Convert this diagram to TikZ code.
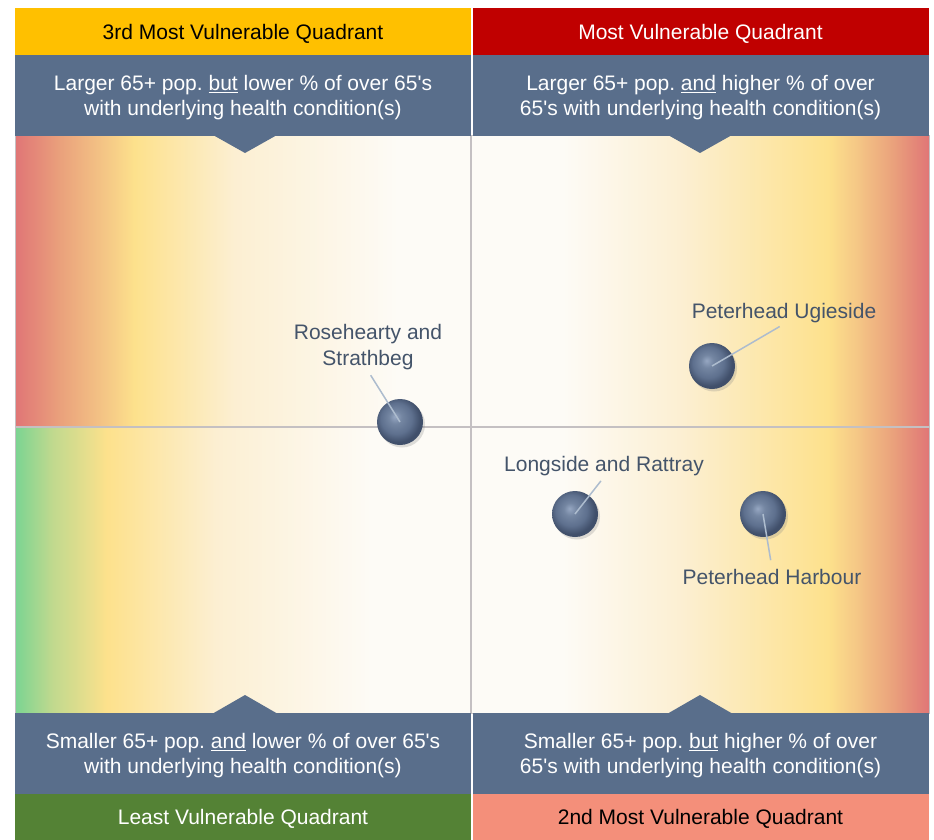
\documentclass[tikz,border=0pt]{standalone}
\usepackage{fontspec}
\setmainfont{Liberation Sans}
\usepackage{tikz}
\usetikzlibrary{shadows}
\frenchspacing

\definecolor{quadyellow}{RGB}{255, 192, 0}
\definecolor{quadred}{RGB}{192, 0, 0}
\definecolor{quadgreen}{RGB}{84, 130, 53}
\definecolor{quadsalmon}{RGB}{244, 143, 122}
\definecolor{boxslate}{RGB}{89, 110, 139}
\definecolor{labelslate}{RGB}{68, 84, 106}
\definecolor{leadergray}{RGB}{173, 188, 206}
\definecolor{gridgray}{RGB}{196, 192, 194}
\definecolor{edgered}{RGB}{224, 118, 118}
\definecolor{edgesalmon}{RGB}{234, 162, 124}
\definecolor{edgeorange}{RGB}{245, 200, 134}
\definecolor{midyellow}{RGB}{253, 225, 140}
\definecolor{midcream}{RGB}{252, 239, 210}
\definecolor{nearwhite}{RGB}{253, 251, 246}
\definecolor{edgegreen}{RGB}{124, 212, 146}
\definecolor{edgelime}{RGB}{192, 217, 142}
\definecolor{ballhi}{RGB}{150, 167, 194}
\definecolor{ballmid}{RGB}{116, 134, 162}
\definecolor{ballbody}{RGB}{94, 112, 142}
\definecolor{balldark}{RGB}{64, 79, 106}

\pgfdeclarehorizontalshading{heatleft}{100bp}{color(0bp)=(edgered); color(25bp)=(edgered); color(30bp)=(edgesalmon); color(35bp)=(edgeorange); color(38bp)=(midyellow); color(49bp)=(midcream); color(67bp)=(nearwhite); color(100bp)=(nearwhite)}
\pgfdeclarehorizontalshading{heatgreen}{100bp}{color(0bp)=(edgegreen); color(25bp)=(edgegreen); color(29bp)=(edgelime); color(35bp)=(midyellow); color(47bp)=(midcream); color(64bp)=(nearwhite); color(100bp)=(nearwhite)}
\pgfdeclarehorizontalshading{heatright}{100bp}{color(0bp)=(nearwhite); color(35bp)=(nearwhite); color(48bp)=(midcream); color(64bp)=(midyellow); color(67bp)=(edgeorange); color(71bp)=(edgesalmon); color(75bp)=(edgered); color(100bp)=(edgered)}
\pgfdeclareradialshading{bubble}{\pgfpoint{-6bp}{6bp}}{color(0bp)=(ballhi); color(7bp)=(ballmid); color(17bp)=(ballbody); color(25bp)=(balldark); color(50bp)=(balldark)}

\begin{document}
\begin{tikzpicture}[x=1pt, y=-1pt,
  bar/.style={minimum width=456pt, minimum height=47pt, inner sep=0pt, text depth=0pt, font=\fontsize{21}{25}\selectfont},
  descbox/.style={fill=boxslate, text=white, minimum width=456pt, minimum height=81pt, inner sep=0pt, text depth=0pt, align=center, font=\fontsize{21}{25}\selectfont},
  town/.style={circle, minimum size=46pt, inner sep=0pt, shading=bubble, drop shadow={shadow xshift=2pt, shadow yshift=-2.5pt, opacity=0.25}},
  townlabel/.style={text=labelslate, align=center, inner sep=1pt, font=\fontsize{21}{26}\selectfont},
  leader/.style={draw=leadergray, line width=1.5pt}]

  \useasboundingbox (0,0) rectangle (934,840);

  % Quadrant backgrounds
  \shade[shading=heatleft] (16,136) rectangle (471,427);
  \shade[shading=heatright] (471,136) rectangle (929,427);
  \shade[shading=heatgreen] (16,427) rectangle (471,713);
  \shade[shading=heatright] (471,427) rectangle (929,713);

  % Frame and dividers
  \draw[gridgray, line width=1pt] (15,136) rectangle (929.5,713);
  \draw[gridgray, line width=2pt] (471,136) -- (471,713);
  \draw[gridgray, line width=2pt] (16,427) -- (929,427);

  % Top headers
  \node[bar, fill=quadyellow, text=black] (q3) at (243,31.5) {3rd Most Vulnerable Quadrant};
  \node[bar, fill=quadred, text=white] (q1) at (700.5,31.5) {Most Vulnerable Quadrant};
  \node[descbox] (d3) at (243,95.5) {Larger 65+ pop. \underline{but} lower \% of over 65\textquotesingle s\\with underlying health condition(s)};
  \node[descbox] (d1) at (700.5,95.5) {Larger 65+ pop. \underline{and} higher \% of over\\65\textquotesingle s with underlying health condition(s)};
  \fill[boxslate] (213,135) -- (245,153) -- (277,135) -- cycle;
  \fill[boxslate] (668,135) -- (700,153) -- (732,135) -- cycle;

  % Bottom headers
  \node[descbox] (d4) at (243,753) {Smaller 65+ pop. \underline{and} lower \% of over 65\textquotesingle s\\with underlying health condition(s)};
  \node[descbox] (d2) at (700.5,753) {Smaller 65+ pop. \underline{but} higher \% of over\\65\textquotesingle s with underlying health condition(s)};
  \fill[boxslate] (212,714) -- (245,695) -- (278,714) -- cycle;
  \fill[boxslate] (667,714) -- (700,695) -- (733,714) -- cycle;
  \node[bar, fill=quadgreen, text=white] (q4) at (243,817) {Least Vulnerable Quadrant};
  \node[bar, fill=quadsalmon, text=black] (q2) at (700.5,817) {2nd Most Vulnerable Quadrant};

  % Areas
  \node[town] (rosehearty) at (400,422) {};
  \node[town] (ugieside) at (712,366) {};
  \node[town] (longside) at (575,514) {};
  \node[town] (harbour) at (763,514) {};

  \node[townlabel] (roseheartylbl) at (368,347) {Rosehearty and\\Strathbeg};
  \node[townlabel] (ugiesidelbl) at (784,313) {Peterhead Ugieside};
  \node[townlabel] (longsidelbl) at (604,466) {Longside and Rattray};
  \node[townlabel] (harbourlbl) at (772,577) {Peterhead Harbour};

  \draw[leader, shorten <=5pt] (roseheartylbl.south) -- (rosehearty.center);
  \draw[leader, shorten <=5pt] (ugiesidelbl.south) -- (ugieside.center);
  \draw[leader, shorten <=5pt] (longsidelbl.south) -- (longside.center);
  \draw[leader, shorten <=8pt] (harbourlbl.north) -- (harbour.center);
\end{tikzpicture}
\end{document}
